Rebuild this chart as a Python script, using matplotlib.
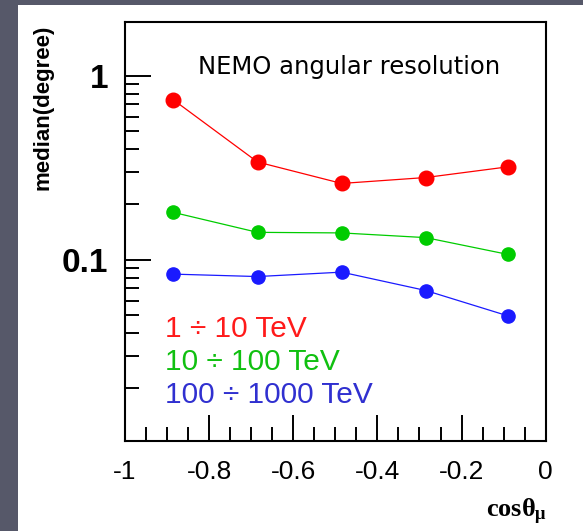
import numpy as np
import matplotlib
matplotlib.use("Agg")
import matplotlib.pyplot as plt
from matplotlib.patches import Rectangle
from matplotlib.ticker import FixedLocator, NullFormatter, FixedFormatter

# ---- data ----
cos_theta = [-0.885, -0.685, -0.485, -0.285, -0.09]
med_1_10 = [0.74, 0.34, 0.26, 0.28, 0.32]
med_10_100 = [0.181, 0.141, 0.140, 0.132, 0.107]
med_100_1000 = [0.0836, 0.0811, 0.0857, 0.0681, 0.0496]

series_labels = ["1 \u00f7 10 TeV", "10 \u00f7 100 TeV", "100 \u00f7 1000 TeV"]
series_colors = ["#ff0000", "#00cc00", "#1a1aff"]
text_colors = ["#ff1a1a", "#10c010", "#3030d0"]
x_major = [-1, -0.8, -0.6, -0.4, -0.2, 0]
x_major_labels = ["-1", "-0.8", "-0.6", "-0.4", "-0.2", "0"]

plt.rcParams.update({
    "mathtext.fontset": "custom",
    "mathtext.rm": "Liberation Serif:bold",
    "mathtext.it": "Liberation Serif:bold",
    "mathtext.bf": "Liberation Serif:bold",
})

fig = plt.figure(figsize=(5.83, 5.31), dpi=100)
fig.patch.set_facecolor("#565869")
# white slide panel
fig.add_artist(Rectangle((18 / 583, 0), 1 - 18 / 583, 1 - 5 / 531,
                         transform=fig.transFigure, facecolor="white",
                         edgecolor="none", zorder=-10))

ax = fig.add_axes([125 / 583, 1 - 440.7 / 531, 420.7 / 583, 418.7 / 531])
ax.set_facecolor("white")

all_series = [med_1_10, med_10_100, med_100_1000]
msizes = [10.5, 9.5, 9.5]
for vals, col, ms in zip(all_series, series_colors, msizes):
    ax.plot(cos_theta, vals, color=col, lw=0.9, marker="o", ms=ms,
            mec=col, mfc=col)

ax.set_xlim(-1, 0)
ax.set_yscale("log")
ax.set_ylim(0.0104, 1.96)

# ticks
ax.xaxis.set_major_locator(FixedLocator(x_major))
ax.xaxis.set_major_formatter(FixedFormatter(x_major_labels))
ax.xaxis.set_minor_locator(FixedLocator(np.arange(-0.95, 0, 0.05)))
ax.yaxis.set_major_locator(FixedLocator([0.1, 1]))
ax.yaxis.set_major_formatter(FixedFormatter(["0.1", "1"]))
ax.yaxis.set_minor_locator(FixedLocator(
    [m * 10.0 ** e for e in (-2, -1) for m in range(2, 10)]))
ax.yaxis.set_minor_formatter(NullFormatter())

ax.tick_params(which="both", direction="in", top=False, right=False,
               color="black", width=1.4)
ax.tick_params(which="major", length=19)
ax.tick_params(which="minor", length=10)
ax.tick_params(axis="x", which="major", pad=14, labelsize=19)
ax.tick_params(axis="y", which="major", pad=12, labelsize=24)
for lab in ax.get_xticklabels():
    lab.set_fontfamily("Liberation Sans")
for lab in ax.get_yticklabels():
    lab.set_fontfamily("Liberation Sans")
    lab.set_fontweight("bold")
for sp in ax.spines.values():
    sp.set_linewidth(1.5)

# title inside frame
ax.text(0.533, 0.8925, "NEMO angular resolution", transform=ax.transAxes,
        ha="center", va="center", fontsize=17.5, family="DejaVu Sans",
        color="black")

# series labels
label_y = [0.267, 0.188, 0.109]
for lab, col, yy in zip(series_labels, text_colors, label_y):
    ax.text(0.095, yy, lab, transform=ax.transAxes, ha="left", va="center",
            fontsize=21.5, family="Liberation Sans", color=col)

# axis titles
fig.text(43 / 583, 1 - 25 / 531, "median(degree)", rotation=90,
         ha="center", va="top", fontsize=16, fontweight="bold",
         family="Liberation Sans")
fig.text(547 / 583, 1 - 512 / 531, r"$\mathrm{cos}\theta_{\mu}$",
         ha="right", va="center", fontsize=19)

fig.savefig("out.png", dpi=100, facecolor=fig.get_facecolor())
